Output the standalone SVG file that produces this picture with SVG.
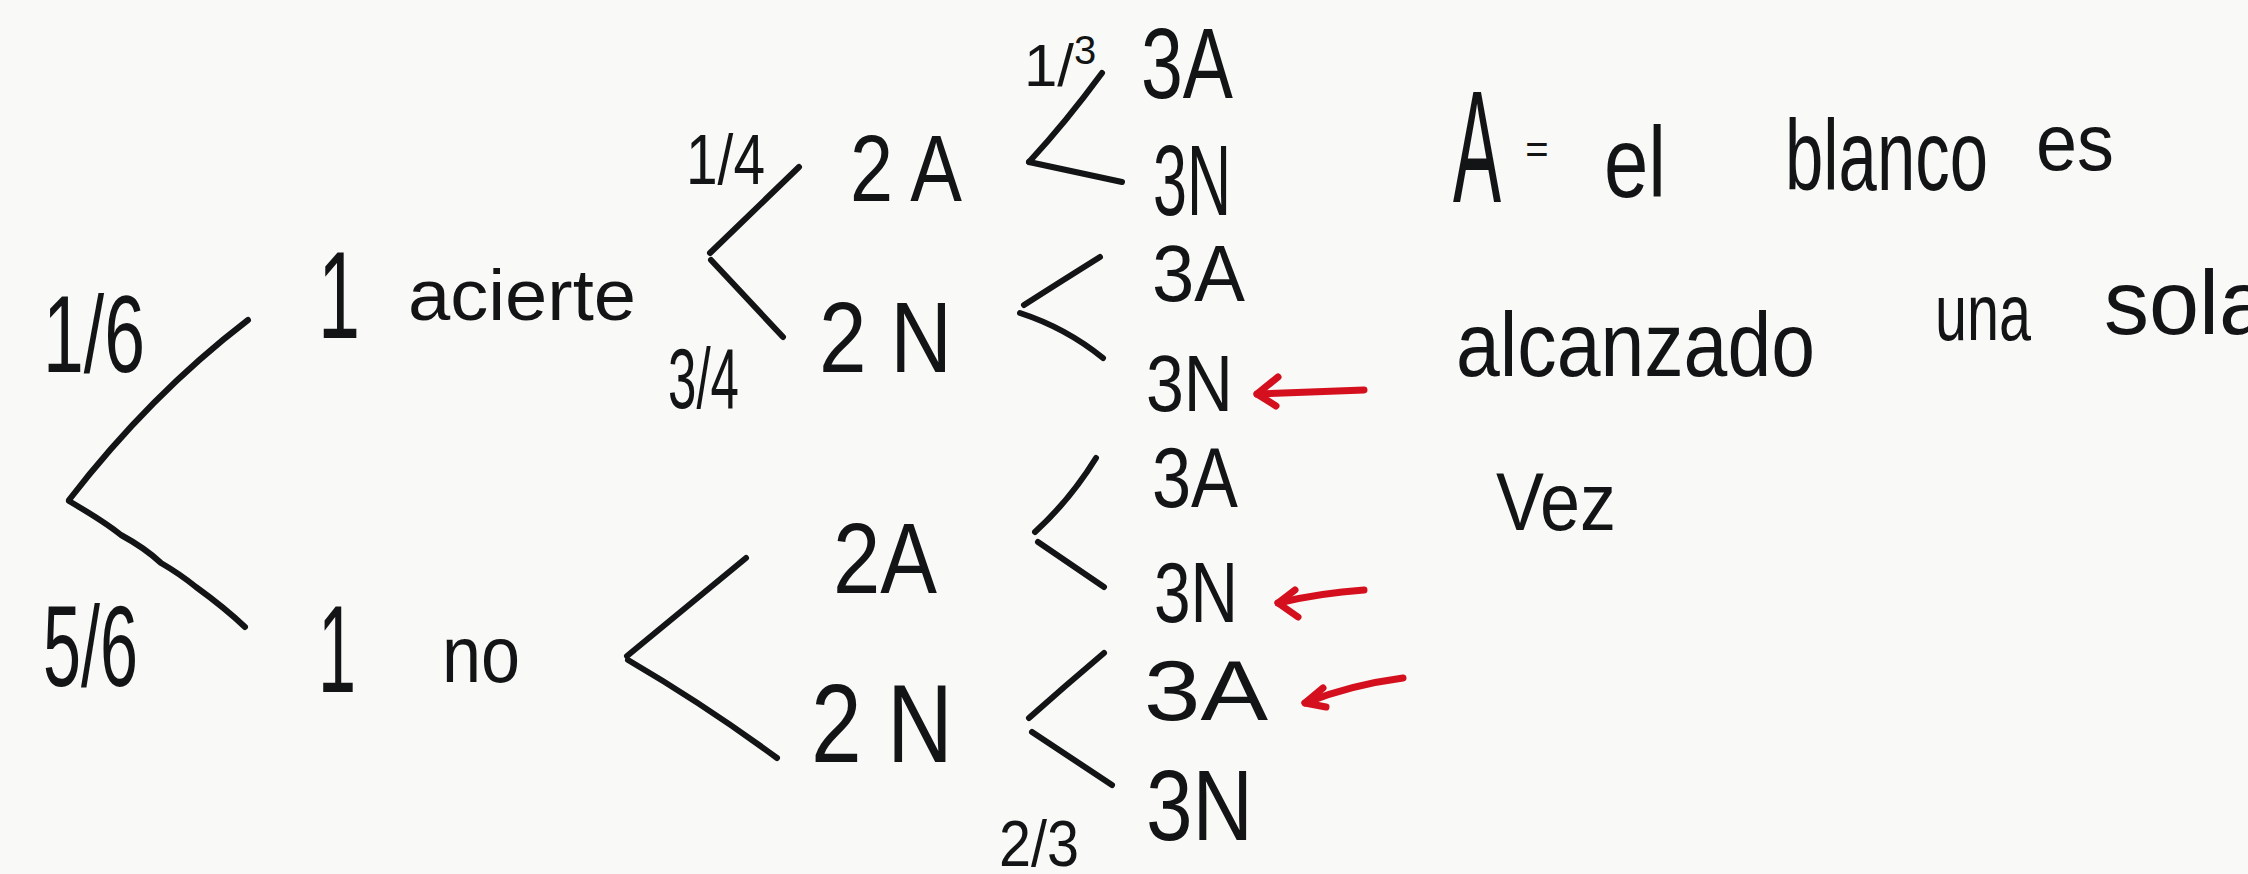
<svg xmlns="http://www.w3.org/2000/svg" width="2248" height="874" viewBox="0 0 2248 874">
<style>
.t{font-family:"Liberation Sans",Arial,sans-serif;fill:#121416;}
.ln{fill:none;stroke:#121416;stroke-width:6;stroke-linecap:round;stroke-linejoin:round;}
.rd{fill:none;stroke:#d5101e;stroke-width:7;stroke-linecap:round;stroke-linejoin:round;}
</style>
<rect width="2248" height="874" fill="#f9f9f7"/>
<g id="connectors">
<path class="ln" d="M248,320 Q150,395 69,500"/>
<path class="ln" d="M69,501 Q105,522 121,535 Q145,548 161,563 Q180,574 196,587 Q225,608 245,627"/>
<path class="ln" d="M799,167 L710,253"/>
<path class="ln" d="M711,260 L783,337"/>
<path class="ln" d="M746,558 L627,656"/>
<path class="ln" d="M628,660 Q705,705 777,758"/>
<path class="ln" d="M1102,73 Q1066,122 1029,162"/>
<path class="ln" d="M1029,162 L1122,182"/>
<path class="ln" d="M1100,257 Q1060,282 1024,305"/>
<path class="ln" d="M1020,313 Q1066,328 1103,358"/>
<path class="ln" d="M1096,458 Q1070,500 1035,532"/>
<path class="ln" d="M1038,542 L1104,587"/>
<path class="ln" d="M1104,653 Q1065,686 1029,718"/>
<path class="ln" d="M1032,732 L1112,785"/>
<path class="rd" d="M1364,390 L1257,394"/>
<path class="rd" d="M1278,377 L1257,394 L1276,406"/>
<path class="rd" d="M1364,590 Q1320,593 1278,603"/>
<path class="rd" d="M1295,590 L1278,603 L1298,617"/>
<path class="rd" d="M1403,678 Q1350,685 1305,703"/>
<path class="rd" d="M1323,688 L1305,703 L1326,707"/>
</g>
<g id="p16"><text class="t" x="43" y="372" font-size="110" textLength="102" lengthAdjust="spacingAndGlyphs">1/6</text></g>
<g id="p56"><text class="t" x="43" y="686" font-size="115" textLength="95" lengthAdjust="spacingAndGlyphs">5/6</text></g>
<g id="n1a">
<text class="t" x="318" y="338" font-size="125" textLength="42" lengthAdjust="spacingAndGlyphs">1</text>
<text class="t" x="408" y="320" font-size="72" textLength="228" lengthAdjust="spacingAndGlyphs">acierte</text>
</g>
<g id="n1n">
<text class="t" x="318" y="692" font-size="125" textLength="38" lengthAdjust="spacingAndGlyphs">1</text>
<text class="t" x="442" y="682" font-size="80" textLength="78" lengthAdjust="spacingAndGlyphs">no</text>
</g>
<g id="p14"><text class="t" x="686" y="184" font-size="70" textLength="79" lengthAdjust="spacingAndGlyphs">1/4</text></g>
<g id="p34"><text class="t" x="668" y="408" font-size="85" textLength="71" lengthAdjust="spacingAndGlyphs">3/4</text></g>
<g id="n2a1"><text class="t" x="850" y="201" font-size="95" textLength="112" lengthAdjust="spacingAndGlyphs">2 A</text></g>
<g id="n2n1"><text class="t" x="819" y="372" font-size="100" textLength="133" lengthAdjust="spacingAndGlyphs">2 N</text></g>
<g id="n2a2"><text class="t" x="833" y="593" font-size="100" textLength="104" lengthAdjust="spacingAndGlyphs">2A</text></g>
<g id="n2n2"><text class="t" x="811" y="762" font-size="112" textLength="142" lengthAdjust="spacingAndGlyphs">2 N</text></g>
<g id="p13"><text class="t" x="1024" y="86" font-size="60">1/<tspan font-size="40" dy="-22">3</tspan></text></g>
<g id="p23"><text class="t" x="999" y="866" font-size="64" textLength="80" lengthAdjust="spacingAndGlyphs">2/3</text></g>
<g id="n3a1"><text class="t" x="1141" y="98" font-size="100" textLength="92" lengthAdjust="spacingAndGlyphs">3A</text></g>
<g id="n3n1"><text class="t" x="1153" y="215" font-size="100" textLength="78" lengthAdjust="spacingAndGlyphs">3N</text></g>
<g id="n3a2"><text class="t" x="1152" y="301" font-size="80" textLength="93" lengthAdjust="spacingAndGlyphs">3A</text></g>
<g id="n3n2"><text class="t" x="1146" y="411" font-size="80" textLength="87" lengthAdjust="spacingAndGlyphs">3N</text></g>
<g id="n3a3"><text class="t" x="1152" y="507" font-size="85" textLength="86" lengthAdjust="spacingAndGlyphs">3A</text></g>
<g id="n3n3"><text class="t" x="1154" y="622" font-size="85" textLength="84" lengthAdjust="spacingAndGlyphs">3N</text></g>
<g id="n3a4"><text class="t" x="1144" y="720" font-size="85" textLength="124" lengthAdjust="spacingAndGlyphs">3A</text></g>
<g id="n3n4"><text class="t" x="1146" y="840" font-size="100" textLength="107" lengthAdjust="spacingAndGlyphs">3N</text></g>
<g id="note">
<text class="t" x="1453" y="202" font-size="160" textLength="48" lengthAdjust="spacingAndGlyphs">A</text>
<text class="t" x="1537" y="163" font-size="40" text-anchor="middle">=</text>
<text class="t" x="1604" y="197" font-size="100" textLength="62" lengthAdjust="spacingAndGlyphs">el</text>
<text class="t" x="1785" y="190" font-size="100" textLength="203" lengthAdjust="spacingAndGlyphs">blanco</text>
<text class="t" x="2036" y="170" font-size="80" textLength="78" lengthAdjust="spacingAndGlyphs">es</text>
<text class="t" x="1456" y="376" font-size="90" textLength="359" lengthAdjust="spacingAndGlyphs">alcanzado</text>
<text class="t" x="1935" y="340" font-size="80" textLength="96" lengthAdjust="spacingAndGlyphs">una</text>
<text class="t" x="2104" y="334" font-size="90">sola</text>
<text class="t" x="1496" y="530" font-size="82" textLength="120" lengthAdjust="spacingAndGlyphs">Vez</text>
</g>
</svg>
